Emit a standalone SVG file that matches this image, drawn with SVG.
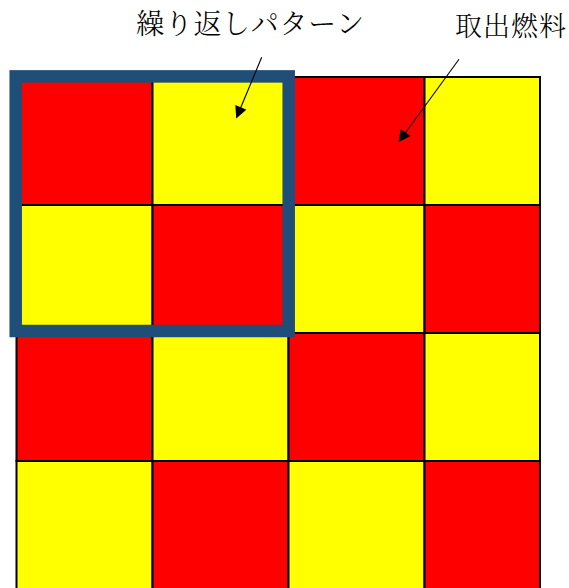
<svg xmlns="http://www.w3.org/2000/svg" width="569" height="588" viewBox="0 0 569 588">
<defs>
<style>
.r{fill:#FF0000;stroke:#000;stroke-width:2}
.y{fill:#FFFF00;stroke:#000;stroke-width:2}
.lbl{font-family:"Noto Serif CJK JP","Noto Sans CJK JP",serif;fill:#000;font-weight:300}
.conn{stroke:#000;stroke-width:1.1;fill:none;marker-end:url(#ah)}
</style>
<marker id="ah" viewBox="0 0 10 10" refX="9" refY="5" markerWidth="13" markerHeight="12" markerUnits="userSpaceOnUse" orient="auto">
<path d="M0,0 L10,5 L0,10 Z" fill="#000"/>
</marker>
</defs>
<rect width="569" height="588" fill="#fff"/>
<g id="grid">
<rect class="r" x="16.5" y="77" width="136" height="128"/>
<rect class="y" x="152.5" y="77" width="136" height="128"/>
<rect class="r" x="288.5" y="77" width="136" height="128"/>
<rect class="y" x="424.5" y="77" width="115.5" height="128"/>
<rect class="y" x="16.5" y="205" width="136" height="128"/>
<rect class="r" x="152.5" y="205" width="136" height="128"/>
<rect class="y" x="288.5" y="205" width="136" height="128"/>
<rect class="r" x="424.5" y="205" width="115.5" height="128"/>
<rect class="r" x="16.5" y="333" width="136" height="128"/>
<rect class="y" x="152.5" y="333" width="136" height="128"/>
<rect class="r" x="288.5" y="333" width="136" height="128"/>
<rect class="y" x="424.5" y="333" width="115.5" height="128"/>
<rect class="y" x="16.5" y="461" width="136" height="128"/>
<rect class="r" x="152.5" y="461" width="136" height="128"/>
<rect class="y" x="288.5" y="461" width="136" height="128"/>
<rect class="r" x="424.5" y="461" width="115.5" height="128"/>
</g>
<g id="repeat-frame">
<rect x="15.7" y="76.4" width="273" height="254.6" fill="none" stroke="#1F4E79" stroke-width="12.5"/>
</g>
<g id="label-repeat">
<text class="lbl" x="136" y="34" font-size="28" letter-spacing="0.7">繰り返しパターン</text>
</g>
<g id="label-fuel">
<text class="lbl" x="455" y="36" font-size="27" letter-spacing="1">取出燃料</text>
</g>
<g id="connectors">
<line class="conn" x1="261.7" y1="57.3" x2="236.7" y2="117.3"/>
<line class="conn" x1="459" y1="59.3" x2="399.3" y2="141.3"/>
</g>
</svg>
